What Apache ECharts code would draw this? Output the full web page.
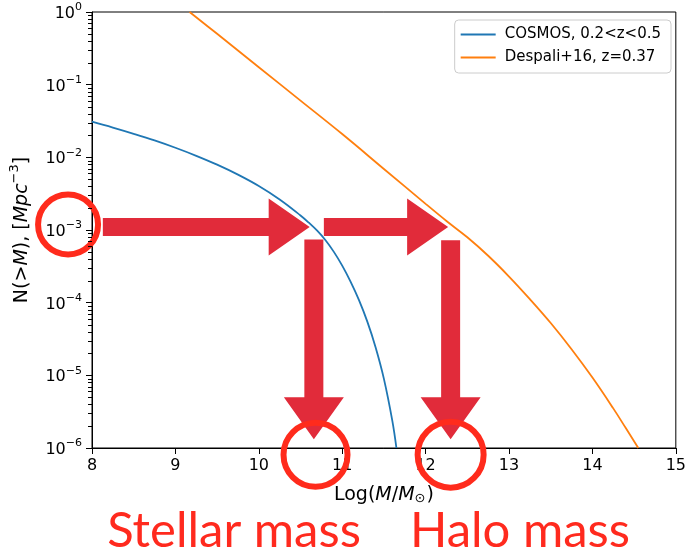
<!DOCTYPE html>
<html>
<head>
<meta charset="utf-8">
<script src="https://cdn.jsdelivr.net/npm/echarts@6/dist/echarts.min.js"></script>
<style>
  html, body { margin: 0; padding: 0; background: #fff; }
  #chart { width: 689px; height: 556px; }
</style>
</head>
<body>
<div id="chart"></div>
<script>
// ---- data ----
const cosmosX = [8.0, 8.25, 8.5, 8.75, 9.0, 9.25, 9.5, 9.75, 10.0, 10.25, 10.5, 10.6, 10.7, 10.8, 10.9, 11.0, 11.1, 11.2, 11.3, 11.4, 11.5, 11.6, 11.65];
const cosmosY = [3.09e-2, 2.57e-2, 2.11e-2, 1.71e-2, 1.355e-2, 1.05e-2, 7.93e-3, 5.78e-3, 4.03e-3, 2.63e-3, 1.585e-3, 1.26e-3, 9.77e-4, 7.23e-4, 5.00e-4, 3.23e-4, 1.945e-4, 1.09e-4, 5.52e-5, 2.44e-5, 8.95e-6, 2.40e-6, 1.0e-6];

const despaliX = [9.17, 9.5, 10.0, 10.5, 11.0, 11.5, 12.0, 12.25, 12.5, 12.75, 13.0, 13.25, 13.5, 13.75, 14.0, 14.25, 14.4, 14.55];
const despaliY = [1.0, 0.501, 0.174, 0.0603, 0.0209, 6.92e-3, 2.29e-3, 1.33e-3, 7.94e-4, 4.42e-4, 2.29e-4, 1.12e-4, 5.25e-5, 2.29e-5, 9.33e-6, 3.51e-6, 1.88e-6, 1.0e-6];

const seriesNames = ['COSMOS, 0.2<z<0.5', 'Despali+16, z=0.37'];
const xTicks = [8, 9, 10, 11, 12, 13, 14, 15];
const yTickValues = [1e-6, 1e-5, 1e-4, 1e-3, 1e-2, 1e-1, 1];
const yMinorMultipliers = [2, 3, 4, 5, 6, 7, 8, 9];

const bottomLabels = ['Stellar mass', 'Halo mass'];

// ---- build ----
const cosmosData = cosmosX.map((x, i) => [x, cosmosY[i]]);
const despaliData = despaliX.map((x, i) => [x, despaliY[i]]);

const FONT = 'DejaVu Sans';
const chart = echarts.init(document.getElementById('chart'), null, { renderer: 'canvas' });

function expLabel(v) {
  const e = Math.round(Math.log10(v));
  return '{b|10}{s|' + (e < 0 ? '\u2212' : '') + Math.abs(e) + '}';
}

chart.setOption({
  animation: false,
  backgroundColor: '#fff',
  grid: { left: 92, right: 11, top: 12, bottom: 108, show: true, borderColor: '#000', borderWidth: 1, backgroundColor: 'transparent' },
  legend: {
    data: seriesNames,
    orient: 'vertical',
    right: 18, top: 20,
    icon: 'rect', itemWidth: 35, itemHeight: 2, itemGap: 8,
    borderColor: '#cccccc', borderWidth: 1, borderRadius: 4,
    padding: [7, 10, 8, 6],
    backgroundColor: 'rgba(255,255,255,0.8)',
    textStyle: { fontFamily: FONT, fontSize: 15, color: '#000', padding: [0, 0, 0, 4] }
  },
  xAxis: {
    type: 'value', min: xTicks[0], max: xTicks[xTicks.length - 1], interval: 1,
    axisLine: { show: true, lineStyle: { color: '#000', width: 1 } },
    axisTick: { show: true, length: 6, lineStyle: { color: '#000' } },
    axisLabel: { fontFamily: FONT, fontSize: 16, color: '#000', margin: 10 },
    splitLine: { show: false },
    name: '{n|Log(}{i|M}{n|/}{i|M}{sub|\u2299}{n|)}',
    nameLocation: 'middle', nameGap: 35,
    nameTextStyle: {
      rich: {
        n: { fontFamily: FONT, fontSize: 19, color: '#000', lineHeight: 22, verticalAlign: 'bottom' },
        i: { fontFamily: FONT, fontSize: 19, fontStyle: 'italic', color: '#000', lineHeight: 22, verticalAlign: 'bottom' },
        sub: { fontFamily: FONT, fontSize: 13, color: '#000', lineHeight: 13, verticalAlign: 'bottom', padding: [0, 1, 0, 0] }
      }
    }
  },
  yAxis: {
    type: 'log', logBase: 10, min: yTickValues[0], max: yTickValues[yTickValues.length - 1],
    axisLine: { show: true, lineStyle: { color: '#000', width: 1 } },
    axisTick: { show: true, length: 6, lineStyle: { color: '#000' } },
    minorTick: { show: false },
    splitLine: { show: false },
    axisLabel: {
      margin: 10,
      formatter: expLabel,
      rich: {
        b: { fontFamily: FONT, fontSize: 16, color: '#000', lineHeight: 20, verticalAlign: 'bottom' },
        s: { fontFamily: FONT, fontSize: 11, color: '#000', lineHeight: 11, padding: [0, 0, 9, 0], verticalAlign: 'bottom' }
      }
    },
    name: '{n|N(>}{i|M}{n|), [}{i|Mpc}{s|\u22123}{n|]}',
    nameLocation: 'middle', nameGap: 60, nameRotate: 90,
    nameTextStyle: {
      rich: {
        n: { fontFamily: FONT, fontSize: 19, color: '#000', lineHeight: 24, verticalAlign: 'bottom' },
        i: { fontFamily: FONT, fontSize: 19, fontStyle: 'italic', color: '#000', lineHeight: 24, verticalAlign: 'bottom' },
        s: { fontFamily: FONT, fontSize: 13, color: '#000', lineHeight: 13, padding: [0, 0, 11, 0], verticalAlign: 'bottom' }
      }
    }
  },
  series: [
    {
      name: seriesNames[0], type: 'line', data: cosmosData, smooth: 0.4,
      showSymbol: false, symbol: 'none', clip: true,
      lineStyle: { color: '#1f77b4', width: 1.8 }, itemStyle: { color: '#1f77b4' }, z: 3
    },
    {
      name: seriesNames[1], type: 'line', data: despaliData, smooth: 0.4,
      showSymbol: false, symbol: 'none', clip: true,
      lineStyle: { color: '#ff7f0e', width: 1.8 }, itemStyle: { color: '#ff7f0e' }, z: 3
    }
  ]
});

// ---- overlay anchored in data coordinates ----
const ARROW = '#E12B3A';
const RING = '#FF2B1C';
const px = (x, y) => chart.convertToPixel({ gridIndex: 0 }, [x, y]);

const g = [];
// log-axis minor ticks (2..9 within each decade), outward on the left spine
yTickValues.slice(0, -1).forEach(d => yMinorMultipliers.forEach(m => {
  const p = px(xTicks[0], m * d);
  g.push({ type: 'rect', z: 20, silent: true, shape: { x: Math.round(p[0]) - 4, y: Math.round(p[1]), width: 4, height: 1 }, style: { fill: '#000' } });
}));

const hArrows = [[8.13, 10.61], [10.78, 12.27]];  // [start x, tip x] at y = arrowY
const arrowY = 1.1e-3;
const vArrows = [[10.66, 7.4e-4, 1.32e-6], [12.30, 7.2e-4, 1.32e-6]]; // [x, top y, tip y]
const rings = [[7.713, 1.19e-3, 30], [10.68, 8.1e-7, 32], [12.30, 8.1e-7, 33]];

hArrows.forEach(a => {
  const s = px(a[0], arrowY), t = px(a[1], arrowY);
  const y = s[1], hl = 41, sw = 9, hw = 28.5;
  g.push({ type: 'polygon', z: 10, shape: { points: [
    [s[0], y - sw], [t[0] - hl, y - sw], [t[0] - hl, y - hw], [t[0], y],
    [t[0] - hl, y + hw], [t[0] - hl, y + sw], [s[0], y + sw]] }, style: { fill: ARROW } });
});
vArrows.forEach(a => {
  const s = px(a[0], a[1]), t = px(a[0], a[2]);
  const x = s[0], hl = 42, sw = 9.5, hw = 30;
  g.push({ type: 'polygon', z: 10, shape: { points: [
    [x - sw, s[1]], [x + sw, s[1]], [x + sw, t[1] - hl], [x + hw, t[1] - hl], [x, t[1]],
    [x - hw, t[1] - hl], [x - sw, t[1] - hl]] }, style: { fill: ARROW } });
});
rings.forEach(r => {
  const c = px(r[0], r[1]);
  g.push({ type: 'circle', z: 11, shape: { cx: c[0], cy: c[1], r: r[2] }, style: { fill: 'none', stroke: RING, lineWidth: 6 } });
});
g.push({ type: 'text', z: 12, x: 234, y: 531, style: { text: bottomLabels[0], fontFamily: 'Lato', fontSize: 49, fill: '#FF2A1E', align: 'center', verticalAlign: 'middle' } });
g.push({ type: 'text', z: 12, x: 520, y: 531, style: { text: bottomLabels[1], fontFamily: 'Lato', fontSize: 49, fill: '#FF2A1E', align: 'center', verticalAlign: 'middle' } });

chart.setOption({ graphic: { elements: g } });
</script>
</body>
</html>
